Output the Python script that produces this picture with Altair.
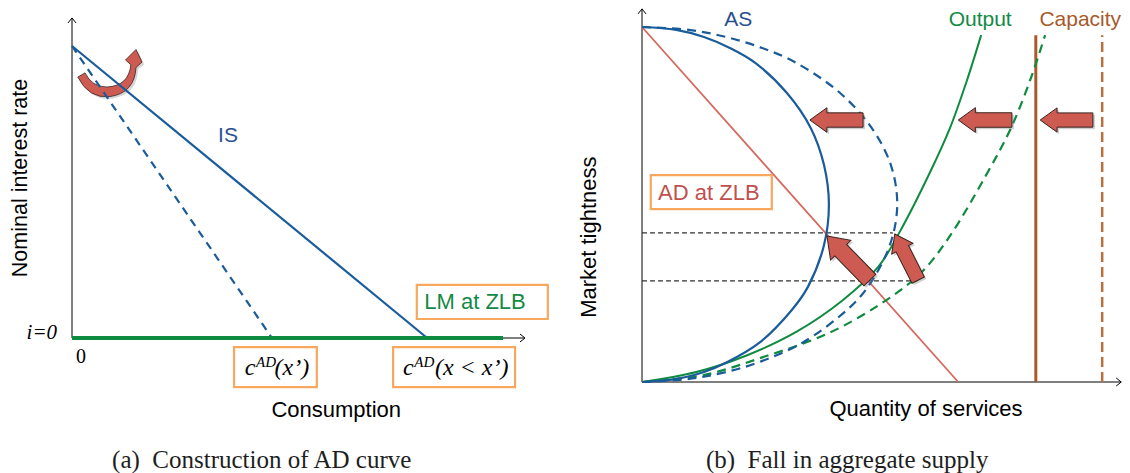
import math
import altair as alt
import pandas as pd

# ---------------- Panel (a): construction of the AD curve ----------------
is_x = [0.0, 8.24]
is_y = [10.0, 0.0]
is_shift_x = [0.0, 4.64]
is_shift_y = [10.0, 0.0]
lm_x = [0.0, 10.0]
lm_y = [0.0, 0.0]
a_x_axis_end = 10.51
a_y_axis_end = 10.96

# ---------------- Panel (b): fall in aggregate supply ----------------
as_x = [0.0, 0.70, 1.27, 1.80, 2.32, 2.97, 3.46, 3.73, 3.83, 3.73, 3.40, 3.07, 2.40, 1.72, 1.27, 0.90, 0.57, 0.0]
as_y = [10.0, 9.92, 9.72, 9.41, 8.99, 8.14, 7.15, 6.11, 4.99, 3.86, 2.68, 2.03, 1.10, 0.54, 0.28, 0.14, 0.06, 0.0]
as_old_x = [0.0, 0.96, 1.72, 2.46, 3.16, 4.06, 4.71, 5.10, 5.23, 5.08, 4.63, 4.20, 3.28, 2.36, 1.72, 1.23, 0.78, 0.0]
as_old_y = [10.0, 9.92, 9.72, 9.41, 8.99, 8.14, 7.15, 6.11, 4.99, 3.86, 2.68, 2.03, 1.10, 0.54, 0.28, 0.14, 0.06, 0.0]
out_x = [0.02, 1.11, 2.13, 3.16, 4.12, 4.84, 5.29, 5.90, 6.31, 6.66, 6.95]
out_y = [0.0, 0.28, 0.74, 1.41, 2.31, 3.24, 4.25, 5.90, 7.15, 8.50, 9.77]
out_old_x = [0.02, 1.28, 2.50, 3.80, 4.89, 5.70, 6.28, 7.04, 7.55, 7.98, 8.26]
out_old_y = [0.0, 0.20, 0.71, 1.36, 2.20, 3.05, 4.05, 5.80, 7.12, 8.60, 9.77]
capacity_x = [8.07, 8.07]
capacity_old_x = [9.43, 9.43]
capacity_y = [0.0, 9.77]
ad_x = [0.0, 6.48]
ad_y = [10.0, 0.0]
eq_levels = [4.20, 2.85]
eq_ends = [5.14, 5.64]
b_x_axis_end = 9.82
b_y_axis_end = 10.51

# shift arrows (tail -> tip)
arrow_tail_x = [4.53, 7.58, 9.24, 4.67, 5.66]
arrow_tail_y = [7.38, 7.38, 7.38, 2.87, 2.87]
arrow_tip_x = [3.44, 6.48, 8.16, 3.79, 5.18]
arrow_tip_y = [7.38, 7.38, 7.38, 4.11, 4.17]

# ---------------- styling ----------------
SANS = "Liberation Sans"
SERIF = "Liberation Serif"
BLUE = "#1A5C9A"
BLUE_TEXT = "#2A4F8F"
GREEN = "#0F8B3F"
GREEN_TEXT = "#138A45"
RED_LINE = "#D4695E"
RED_TEXT = "#C0504D"
ARROW_FILL = "#CD5B52"
ARROW_EDGE = "#3A2420"
BROWN = "#A85A2A"
BROWN_DASH = "#B9703F"
ORANGE = "#F8A85E"
CAPTION = "#1E1E1E"

# pixel geometry of the two panels (chart coordinates)
LKX, LKY = 43.1, 29.2
RKX, RKY = 48.8, 35.5
LX = alt.Scale(domain=[0, 10], range=[64, 64 + 10 * LKX], nice=False, zero=False)
LY = alt.Scale(domain=[0, 10], range=[330, 330 - 10 * LKY], nice=False, zero=False)
RX = alt.Scale(domain=[0, 10], range=[634, 634 + 10 * RKX], nice=False, zero=False)
RY = alt.Scale(domain=[0, 10], range=[374, 374 - 10 * RKY], nice=False, zero=False)

ARROW_PATH = "M0,-1 L0.46,-0.36 L0.27,-0.36 L0.27,1 L-0.27,1 L-0.27,-0.36 L-0.46,-0.36 Z"
CHEVRON = "M-1,-0.8 L0,0 L-1,0.8"
CURVED_ARROW = ("M-0.97,0.17 Q-0.6,0.9 0.1,0.82 Q0.92,0.7 0.97,-0.15 L1.17,-0.33 "
                "L0.97,-0.75 L0.62,-0.4 L0.8,-0.24 Q0.72,0.47 0.0,0.5 Q-0.5,0.5 -0.73,0.03 Z")


def enc(sx, sy):
    return dict(x=alt.X("x:Q", scale=sx, axis=None), y=alt.Y("y:Q", scale=sy, axis=None))


def line(xs, ys, sx, sy, color, width, dash=None, interp="linear"):
    df = pd.DataFrame({"x": xs, "y": ys, "i": list(range(len(xs)))})
    props = dict(color=color, strokeWidth=width, interpolate=interp, strokeCap="butt")
    if dash:
        props["strokeDash"] = dash
    return alt.Chart(df).mark_line(**props).encode(order="i:Q", **enc(sx, sy))


def text(s, x, y, sx, sy, **props):
    df = pd.DataFrame({"x": [x], "y": [y], "t": [s]})
    return alt.Chart(df).mark_text(**props).encode(text="t:N", **enc(sx, sy))


def box(x1, x2, y1, y2, sx, sy):
    df = pd.DataFrame({"x": [x1], "x2": [x2], "y": [y1], "y2": [y2]})
    return alt.Chart(df).mark_rect(fillOpacity=0, stroke=ORANGE, strokeWidth=2.2).encode(
        x=alt.X("x:Q", scale=sx, axis=None), x2="x2:Q",
        y=alt.Y("y:Q", scale=sy, axis=None), y2="y2:Q")


def symbol(xs, ys, sizes, angles, sx, sy, **props):
    df = pd.DataFrame({"x": xs, "y": ys, "s": sizes, "a": angles})
    return alt.Chart(df).mark_point(opacity=1, **props).encode(
        size=alt.Size("s:Q", scale=None), angle=alt.Angle("a:Q", scale=None), **enc(sx, sy))


MATH = dict(font=SERIF, fontStyle="italic", align="left", baseline="alphabetic", color="black")

# ---------------- panel (a) layers ----------------
left_layers = [
    symbol([0.86], [9.04], [3600], [0], LX, LY, shape=CURVED_ARROW, filled=True,
           fill="#888888", strokeWidth=0, fillOpacity=0.35),
    symbol([0.81], [9.11], [3600], [0], LX, LY, shape=CURVED_ARROW, filled=True,
           fill=ARROW_FILL, stroke=ARROW_EDGE, strokeWidth=0.8),
    line([0, 0], [0, a_y_axis_end], LX, LY, "black", 1),
    line([0, a_x_axis_end], [0, 0], LX, LY, "black", 1),
    symbol([0, a_x_axis_end], [a_y_axis_end, 0], [100, 100], [270, 0], LX, LY,
           shape=CHEVRON, filled=False, color="black", strokeWidth=1),
    line(is_shift_x, is_shift_y, LX, LY, BLUE, 2.2, dash=[8, 6]),
    line(is_x, is_y, LX, LY, BLUE, 2.2),
    line(lm_x, lm_y, LX, LY, GREEN, 4),
    box(8.00, 11.04, 1.82, 0.65, LX, LY),
    box(3.76, 5.68, -0.31, -1.68, LX, LY),
    box(7.45, 10.28, -0.31, -1.68, LX, LY),
    text("IS", 3.62, 6.92, LX, LY, font=SANS, fontSize=21, color=BLUE_TEXT),
    text("LM at ZLB", 9.35, 1.23, LX, LY, font=SANS, fontSize=22, color=GREEN_TEXT),
    text("i=0", -0.70, 0.17, LX, LY, font=SERIF, fontSize=21, fontStyle="italic", color="black"),
    text("0", 0.21, -0.65, LX, LY, font=SERIF, fontSize=20, color="black"),
    text("c", 4.01, -1.27, LX, LY, fontSize=24, **MATH),
    text("AD", 4.27, -0.99, LX, LY, fontSize=15, **MATH),
    text("(x\u2019)", 4.70, -1.27, LX, LY, fontSize=24, **MATH),
    text("c", 7.68, -1.27, LX, LY, fontSize=24, **MATH),
    text("AD", 7.94, -0.99, LX, LY, fontSize=15, **MATH),
    text("(x < x\u2019)", 8.42, -1.27, LX, LY, fontSize=24, **MATH),
    text("Consumption", 6.13, -2.47, LX, LY, font=SANS, fontSize=22, color="black"),
    text("Nominal interest rate", -1.18, 5.48, LX, LY, font=SANS, fontSize=21.5, color="black", angle=270),
    text("(a)\u2002Construction of AD curve", 0.93, -4.18, LX, LY, font=SERIF, fontSize=25,
         color=CAPTION, align="left"),
]

# ---------------- panel (b) layers ----------------
mid_x, mid_y, sizes, angles = [], [], [], []
for tx, ty, hx, hy in zip(arrow_tail_x, arrow_tail_y, arrow_tip_x, arrow_tip_y):
    dx = (hx - tx) * RKX
    dy = -(hy - ty) * RKY
    mid_x.append((tx + hx) / 2)
    mid_y.append((ty + hy) / 2)
    sizes.append(dx * dx + dy * dy)
    angles.append(math.degrees(math.atan2(dx, -dy)) % 360)

shadow_x = [v + 2 / RKX for v in mid_x]
shadow_y = [v - 2 / RKY for v in mid_y]

right_layers = [
    line([0, 0], [0, b_y_axis_end], RX, RY, "black", 1),
    line([0, b_x_axis_end], [0, 0], RX, RY, "black", 1),
    symbol([0, b_x_axis_end], [b_y_axis_end, 0], [100, 100], [270, 0], RX, RY,
           shape=CHEVRON, filled=False, color="black", strokeWidth=1),
    line([0, eq_ends[0]], [eq_levels[0]] * 2, RX, RY, "#333333", 1.2, dash=[5, 3]),
    line([0, eq_ends[1]], [eq_levels[1]] * 2, RX, RY, "#333333", 1.2, dash=[5, 3]),
    line(capacity_old_x, capacity_y, RX, RY, BROWN_DASH, 2.5, dash=[10, 5]),
    line(capacity_x, capacity_y, RX, RY, BROWN, 3),
    line(ad_x, ad_y, RX, RY, RED_LINE, 1.8),
    line(out_old_x, out_old_y, RX, RY, GREEN, 2.2, dash=[9, 6], interp="catmull-rom"),
    line(out_x, out_y, RX, RY, GREEN, 2, interp="catmull-rom"),
    line(as_old_x, as_old_y, RX, RY, BLUE, 2.2, dash=[9, 6], interp="catmull-rom"),
    line(as_x, as_y, RX, RY, BLUE, 2.2, interp="catmull-rom"),
    symbol(shadow_x, shadow_y, sizes, angles, RX, RY, shape=ARROW_PATH, filled=True,
           fill="#777777", strokeWidth=0, fillOpacity=0.35),
    symbol(mid_x, mid_y, sizes, angles, RX, RY, shape=ARROW_PATH, filled=True,
           fill=ARROW_FILL, stroke=ARROW_EDGE, strokeWidth=1),
    box(0.18, 2.66, 5.83, 4.87, RX, RY),
    text("AD at ZLB", 1.37, 5.32, RX, RY, font=SANS, fontSize=22, color=RED_TEXT),
    text("AS", 1.97, 10.20, RX, RY, font=SANS, fontSize=21, color=BLUE_TEXT),
    text("Output", 6.93, 10.20, RX, RY, font=SANS, fontSize=21, color=GREEN_TEXT),
    text("Capacity", 8.98, 10.20, RX, RY, font=SANS, fontSize=21, color=BROWN),
    text("Market tightness", -1.09, 4.08, RX, RY, font=SANS, fontSize=22, color="black", angle=270),
    text("Quantity of services", 5.82, -0.76, RX, RY, font=SANS, fontSize=22, color="black"),
    text("(b)\u2002Fall in aggregate supply", 1.31, -2.20, RX, RY, font=SERIF, fontSize=25,
         color=CAPTION, align="left"),
]

left = alt.layer(*left_layers)
right = alt.layer(*right_layers)

chart = (
    alt.layer(left, right)
    .resolve_scale(x="independent", y="independent")
    .properties(width=1114, height=465, autosize=alt.AutoSizeParams(type="none"), padding=0)
    .configure_view(strokeWidth=0)
)

chart.save("out.html", embed_options={"renderer": "svg", "actions": False})
